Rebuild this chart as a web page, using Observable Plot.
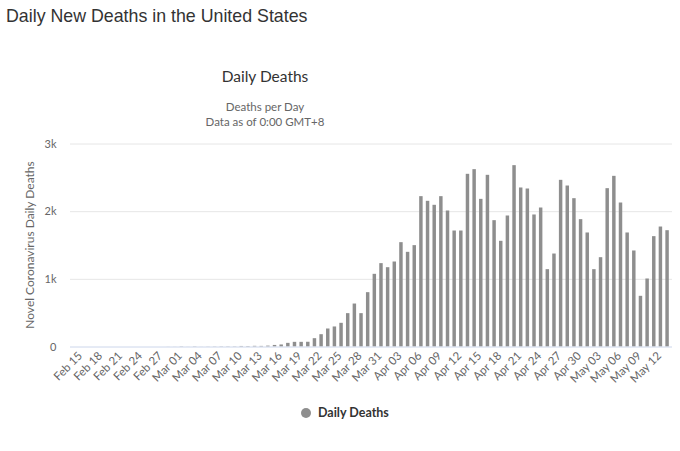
<!DOCTYPE html>
<html>
<head>
<meta charset="utf-8">
<script src="https://cdn.jsdelivr.net/npm/d3@7"></script>
<script src="https://cdn.jsdelivr.net/npm/@observablehq/plot@0.6"></script>
<style>
  html, body { margin: 0; padding: 0; background: #fff; }
  #wrap { position: relative; width: 680px; height: 451px; overflow: hidden; }
  #wrap svg { position: absolute; left: 0; top: 0; }
  .t { position: absolute; white-space: nowrap; }
</style>
</head>
<body>
<div id="wrap">
  <div class="t" style="left:6px;top:5px;font:17.8px 'Liberation Sans',Arial,sans-serif;color:#333;transform:scaleY(1.08);transform-origin:left top;">Daily New Deaths in the United States</div>
  <div class="t" style="left:0;width:530px;text-align:center;top:67px;font:15.5px Lato,sans-serif;color:#333;">Daily Deaths</div>
  <div class="t" style="left:0;width:530px;text-align:center;top:99px;font:11.5px Lato,sans-serif;color:#666;line-height:15px;">Deaths per Day<br>Data as of 0:00 GMT+8</div>
  <div class="t" style="left:29px;top:245px;font:12px Lato,sans-serif;color:#666;transform:translate(-50%,-50%) rotate(-90deg);">Novel Coronavirus Daily Deaths</div>
  <div id="chart"></div>
  <div class="t" style="left:300.7px;top:408.3px;width:10px;height:10px;border-radius:50%;background:#8e8e8e;"></div>
  <div class="t" style="left:318px;top:405px;font:bold 12.5px Lato,sans-serif;color:#333;">Daily Deaths</div>
</div>
<script>
// Categories: one bar per day, Feb 15 – May 14, 2020
const dates = d3.utcDay.range(new Date("2020-02-15"), new Date("2020-05-15")).map(d3.utcFormat("%b %d"));

// Daily deaths
const febDeaths = [0,0,0,0,0,0,0,0,0,0,0,0,0,0,1];          // Feb 15 – Feb 29
const marDeaths = [1,4,1,4,1,2,3,4,4,4,8,7,10,9,13,
                   23,30,54,69,69,70,123,182,266,296,350,493,635,493,803,1074]; // Mar 1 – Mar 31
const aprDeaths = [1232,1172,1256,1542,1399,1498,2222,2153,2094,2222,
                   2010,1714,1714,2552,2621,2182,2537,1867,1562,1936,
                   2680,2350,2335,1951,2054,1143,1374,2463,2379,2192];   // Apr 1 – Apr 30
const mayDeaths = [1882,1685,1143,1320,2340,2522,2128,1685,1419,749,1005,1631,1773,1719]; // May 1 – May 14

const deaths = [...febDeaths, ...marDeaths, ...aprDeaths, ...mayDeaths];
const yTicks = [0, 1000, 2000, 3000];
const xTickLabels = dates.filter((d, i) => i % 3 === 0);

const data = dates.map((d, i) => ({date: d, deaths: deaths[i]}));

const chart = Plot.plot({
  width: 680,
  height: 451,
  marginLeft: 70,
  marginRight: 8,
  marginTop: 143.5,
  marginBottom: 104.5,
  style: {background: "transparent", fontFamily: "Lato, sans-serif"},
  x: {type: "band", domain: dates, padding: 0.48, axis: null},
  y: {domain: [0, 3000], axis: null},
  marks: [
    Plot.gridY([1000, 2000, 3000], {stroke: "#e6e6e6", strokeOpacity: 1}),
    Plot.barY(data, {x: "date", y: "deaths", fill: "#8e8e8e"}),
    Plot.ruleY([0], {stroke: "#ccd6eb", strokeOpacity: 1}),
    Plot.axisY(yTicks, {
      tickSize: 0, tickPadding: 14, fontSize: 11, color: "#666",
      tickFormat: d => d === 0 ? "0" : (d / 1000) + "k", label: null
    }),
    Plot.axisX(xTickLabels, {
      tickSize: 0, tickPadding: 7, tickRotate: -45, fontSize: 11.5, color: "#666",
      dx: 5, label: null
    })
  ]
});
document.getElementById("chart").appendChild(chart);
</script>
</body>
</html>
